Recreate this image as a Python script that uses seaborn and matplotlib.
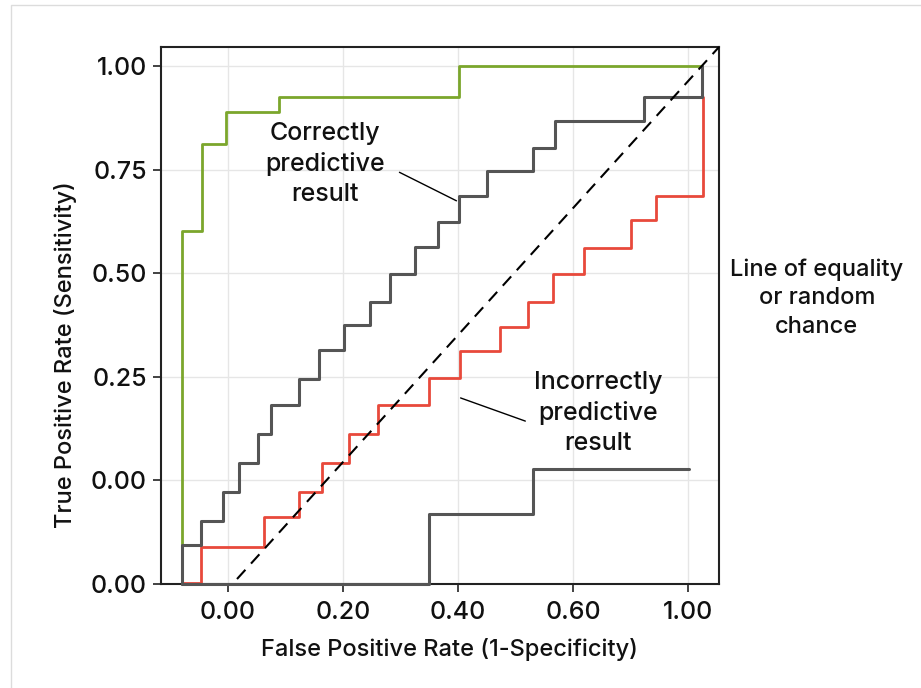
import matplotlib
matplotlib.use("Agg")
import matplotlib.pyplot as plt
from matplotlib.patches import Rectangle
import seaborn as sns
import pandas as pd

# ---------------- data ----------------
x_ticks = [0.0, 0.2, 0.4, 0.6, 0.8]
x_tick_labels = ["0.00", "0.20", "0.40", "0.60", "1.00"]
y_ticks = [-0.25, 0.0, 0.25, 0.5, 0.75, 1.0]
y_tick_labels = ["0.00", "0.00", "0.25", "0.50", "0.75", "1.00"]

# step vertices (steps-pre)
green_fpr = [-0.080, -0.045, -0.0035, 0.089, 0.402, 0.824]
green_tpr = [-0.25, 0.602, 0.812, 0.889, 0.925, 1.0]

correct_fpr = [-0.080, -0.047, -0.0087, 0.0191, 0.0522, 0.0748, 0.1235, 0.1583,
               0.2017, 0.2470, 0.2817, 0.3252, 0.3652, 0.4017, 0.4504, 0.5304,
               0.5687, 0.7235, 0.8243, 0.8243]
correct_tpr = [-0.25, -0.156, -0.098, -0.028, 0.042, 0.112, 0.182, 0.245,
               0.315, 0.375, 0.4305, 0.498, 0.563, 0.624, 0.686, 0.747,
               0.802, 0.867, 0.925, 1.0]

incorrect_fpr = [-0.080, -0.047, 0.0626, 0.1235, 0.1635, 0.2104, 0.2609, 0.3496,
                 0.4035, 0.4730, 0.5217, 0.5652, 0.6191, 0.7009, 0.7443, 0.8261, 0.8261]
incorrect_tpr = [-0.247, -0.247, -0.1607, -0.0883, -0.028, 0.042, 0.112, 0.182,
                 0.247, 0.312, 0.370, 0.4305, 0.498, 0.561, 0.628, 0.686, 0.925]

lower_fpr = [-0.080, 0.3496, 0.5304, 0.8017]
lower_tpr = [-0.249, -0.249, -0.0811, 0.0275]

diag_fpr = [0.0157, 0.854]
diag_tpr = [-0.238, 1.046]

label_correct = "Correctly\npredictive\nresult"
label_incorrect = "Incorrectly\npredictive\nresult"
label_equality = "Line of equality\nor random\nchance"

GREEN = "#7ba62c"
RED = "#e8493b"
GREY = "#555555"

# ---------------- style ----------------
sns.set_theme(style="whitegrid")
plt.rcParams["font.family"] = ["Inter", "DejaVu Sans"]
plt.rcParams["axes.edgecolor"] = "#222222"
plt.rcParams["grid.color"] = "#e6e6e6"

fig = plt.figure(figsize=(9.21, 6.88), dpi=100)
fig.patch.set_facecolor("white")
ax = fig.add_axes([161 / 921, 1 - 584 / 688, (719 - 161) / 921, (584 - 47) / 688])

def step(xs, ys, color, lw, z):
    df = pd.DataFrame({"fpr": xs, "tpr": ys})
    sns.lineplot(data=df, x="fpr", y="tpr", sort=False, estimator=None,
                 color=color, lw=lw, drawstyle="steps-pre", ax=ax, zorder=z)
    ax.lines[-1].set_clip_on(False)

step(green_fpr, green_tpr, GREEN, 2.0, 3)
step(incorrect_fpr, incorrect_tpr, RED, 2.0, 4)
step(lower_fpr, lower_tpr, GREY, 2.2, 5)
step(correct_fpr, correct_tpr, GREY, 2.2, 6)

ddf = pd.DataFrame({"fpr": diag_fpr, "tpr": diag_tpr})
sns.lineplot(data=ddf, x="fpr", y="tpr", sort=False, estimator=None,
             color="black", lw=1.5, ax=ax, zorder=7)
ax.lines[-1].set_dashes([6, 4])
ax.lines[-1].set_clip_on(False)

ax.set_xlim(-0.1165, 0.854)
ax.set_ylim(-0.25, 1.046)
ax.set_xticks(x_ticks)
ax.set_xticklabels(x_tick_labels)
ax.set_yticks(y_ticks)
ax.set_yticklabels(y_tick_labels)
ax.tick_params(axis="both", which="major", labelsize=18, length=6, width=1.2,
               color="#222222", labelcolor="#111111", direction="out", pad=4,
               bottom=True, left=True)
ax.tick_params(axis="x", pad=6)
for lab in ax.get_xticklabels() + ax.get_yticklabels():
    lab.set_fontweight(500)
for sp in ax.spines.values():
    sp.set_linewidth(1.5)
    sp.set_color("#222222")
    sp.set_zorder(2)
ax.grid(True, color="#e6e6e6", lw=1)

ax.set_xlabel("False Positive Rate (1-Specificity)", fontsize=17, fontweight=500,
              color="#111111", va="top")
ax.xaxis.set_label_coords((449 - 161) / 558, (584 - 638) / 537)
ax.set_ylabel("True Positive Rate (Sensitivity)", fontsize=17, fontweight=500,
              color="#111111")
ax.yaxis.set_label_coords((77 - 161) / 558, (584 - 355) / 537)

txt_kw = dict(ha="center", va="center", multialignment="center", fontsize=18,
              fontweight=500, linespacing=1.4, color="#111111", zorder=8)
ax.text(0.1687, 0.7635, label_correct, **txt_kw)
ax.annotate("", xy=(0.4017, 0.6718), xytext=(0.2939, 0.7466),
            arrowprops=dict(arrowstyle="-", color="black", lw=1.0))
ax.text(0.6435, 0.1627, label_incorrect, **txt_kw)
ax.annotate("", xy=(0.5217, 0.1409), xytext=(0.40, 0.2013),
            arrowprops=dict(arrowstyle="-", color="black", lw=1.0))
ax.text(1.0243, 0.44, label_equality, clip_on=False,
        **{**txt_kw, "fontsize": 17})

# thin card border seen at the image's left/top edges
fig.patches.append(Rectangle((10.5 / 921, -0.05), 1.2, 1.05 - 5.5 / 688,
                             transform=fig.transFigure, fill=False,
                             edgecolor="#dcdcdc", lw=1.0))

fig.savefig("out.png", dpi=100, facecolor="white")
